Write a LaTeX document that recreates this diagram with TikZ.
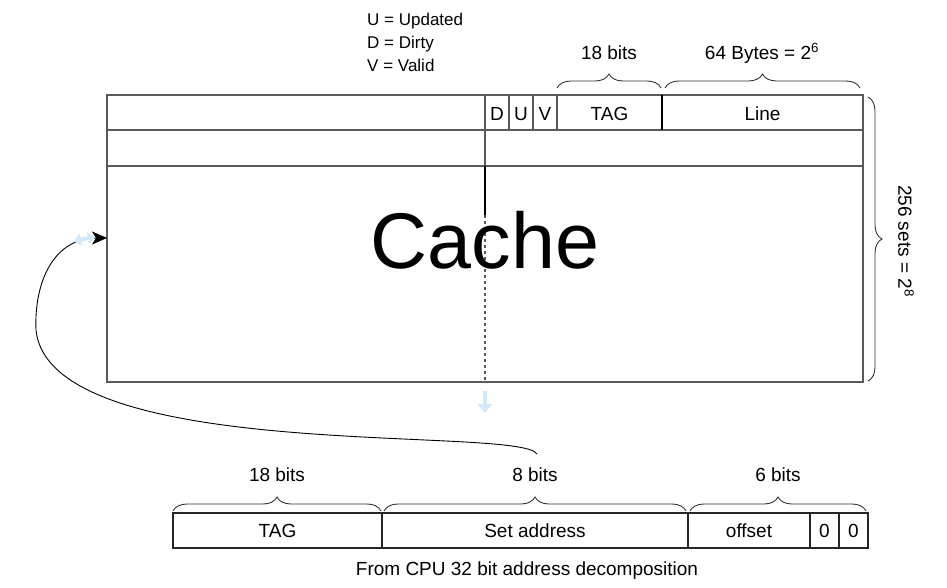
\documentclass[tikz,border=0pt]{standalone}
\usepackage{fontspec}
\setmainfont{Liberation Sans}
\usetikzlibrary{arrows.meta,decorations.pathreplacing}
\definecolor{boxgray}{RGB}{90,90,90}
\definecolor{ghostblue}{RGB}{208,232,250}
\tikzset{
  cell/.style={draw=boxgray, line width=1.3pt},
  brc/.style={decorate, decoration={brace, amplitude=14pt}, draw=black!80, line width=0.9pt},
  lbl/.style={font=\fontsize{19}{23}\selectfont, inner sep=0pt, anchor=base},
  legend/.style={font=\fontsize{17}{23}\selectfont, inner sep=0pt, anchor=base west},
  ghost/.style={draw=ghostblue, line width=4pt}
}
\begin{document}
\begin{tikzpicture}[x=1pt,y=-1pt]
    \useasboundingbox (0,0) rectangle (947,587);
    % legend
    \node[legend] (upd) at (367,25) {U = Updated};
    \node[legend] (dirty) at (367,48) {D = Dirty};
    \node[legend] (valid) at (367,71) {V = Valid};
    % cache
    \draw[cell] (107,95) rectangle (863,382);
    \draw[cell] (107,130) -- (863,130);
    \draw[cell] (107,166) -- (863,166);
    \draw[cell] (485,95) -- (485,166);
    \foreach \x in {509,533,557} \draw[cell] (\x,95) -- (\x,130);
    \draw[line width=1.1pt] (662,95) -- (662,130);
    \draw[line width=1.1pt] (485,166) -- (485,215);
    \draw[cell, dash pattern=on 3pt off 3pt] (485,215) -- (485,382);
    \node[lbl] (d) at (497,120) {D};
    \node[lbl] (u) at (521,120) {U};
    \node[lbl] (v) at (545,120) {V};
    \node[lbl] (tag) at (609.5,120) {TAG};
    \node[lbl] (line) at (762.5,120) {Line};
    \node[font=\fontsize{79}{84}\selectfont, inner sep=0pt, anchor=base] (cache) at (485,268) {Cache};
    % braces
    \draw[brc] (557,88) -- (661,88);
    \draw[brc] (665,88) -- (860,88);
    \draw[brc] (868,97) -- (868,381);
    \node[lbl] (tagbits) at (609,59) {18 bits};
    \node[lbl] (linebytes) at (762,59) {64 Bytes = 2\textsuperscript{6}};
    \node[font=\fontsize{19}{23}\selectfont, inner sep=0pt, rotate=-90] (sets) at (906,241) {256 sets = 2\textsuperscript{8}};
    % address
    \draw[cell, line width=1.1pt, draw=black!85] (173,513) rectangle (868,548);
    \foreach \x in {382,688,810,839} \draw[line width=1.1pt, draw=black!85] (\x,513) -- (\x,548);
    \node[lbl] (atag) at (277.5,537) {TAG};
    \node[lbl] (aset) at (535,537) {Set address};
    \node[lbl] (aoff) at (749,537) {offset};
    \node[lbl] (zeroa) at (824.5,537) {0};
    \node[lbl] (zerob) at (853.5,537) {0};
    \draw[brc] (173,511) -- (381,511);
    \draw[brc] (384,511) -- (686,511);
    \draw[brc] (690,511) -- (866,511);
    \node[lbl] (tagwidth) at (277,481) {18 bits};
    \node[lbl] (setwidth) at (535,481) {8 bits};
    \node[lbl] (offwidth) at (778,481) {6 bits};
    \node[lbl] (caption) at (527,575) {From CPU 32 bit address decomposition};
    % set address points into the cache
    \coordinate (setsrc) at (537,454);
    \coordinate (bend) at (36,330);
    \coordinate (cachein) at (107,238);
    \draw[line width=0.9pt, -{Stealth[length=15pt,width=13pt,inset=4pt]}]
        (setsrc) .. controls (520,425) and (50,465) .. (bend)
        .. controls (34,280) and (55,238) .. (cachein);
    \draw[ghost, {Triangle[length=7pt,width=12pt]}-{Triangle[length=7pt,width=12pt]}] (74,241) -- (95,237);
    \draw[ghost, -{Triangle[length=9pt,width=14pt]}] (485,391) -- (485,413);
\end{tikzpicture}
\end{document}
